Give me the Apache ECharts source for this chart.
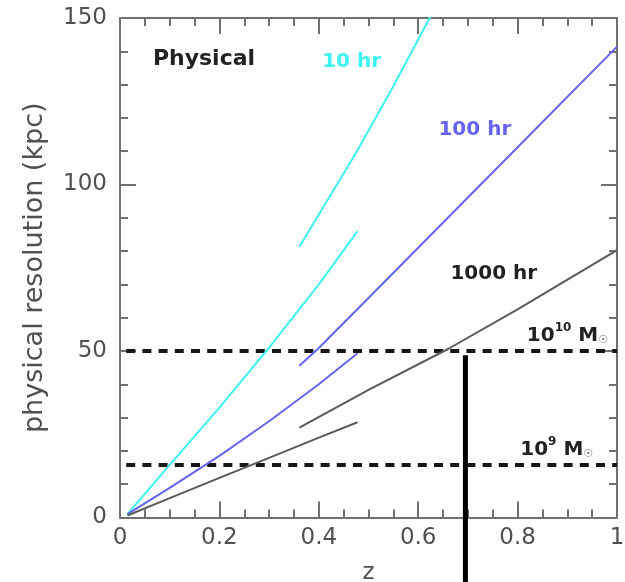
<!DOCTYPE html>
<html><head><meta charset="utf-8">
<script src="https://cdn.jsdelivr.net/npm/echarts@6/dist/echarts.min.js"></script>
<style>html,body{margin:0;padding:0;background:#fff}#chart{width:625px;height:582px}</style>
</head><body><div id="chart"></div>
<script>
// Axis ranges
const xRange = [0, 1];
const yRange = [0, 150];

// Physical resolution (kpc) versus redshift z: low-z and high-z branches per exposure time
const tenHrLow = [[0.015, 1], [0.1, 15.8], [0.2, 33.0], [0.3, 51.0], [0.4, 70.0], [0.478, 86.0]];
const tenHrHigh = [[0.361, 81.3], [0.478, 110.3], [0.55, 129.5], [0.623, 150], [0.66, 160]];
const hundredHrLow = [[0.015, 1], [0.1, 8.9], [0.2, 18.5], [0.3, 28.9], [0.4, 40.0], [0.478, 49.3]];
const hundredHrHigh = [[0.361, 45.6], [0.4, 50.9], [0.5, 65.9], [0.6, 81.0], [0.8, 111.2], [1.0, 141.4]];
const thousandHrLow = [[0.015, 0.6], [0.1, 5.8], [0.2, 11.9], [0.3, 17.9], [0.4, 24.0], [0.478, 28.6]];
const thousandHrHigh = [[0.361, 27], [0.5, 38.3], [0.66, 50.6], [0.8, 62.5], [1.0, 80.3]];

// Halo-mass thresholds (kpc) and their exponents
const massLevels = [50, 15.8];
const massExponents = ['10', '9'];

// Vertical marker at a chosen redshift, spanning these resolution values
const markerZ = 0.695;
const markerSpan = [48.7, -22];

const COLORS = { ten: '#3ff2f2', hundred: '#6464ee', thousand: '#5a5a5a' };
const FONT = 'DejaVu Sans';

function curve(data, color) {
  return {
    type: 'line', data: data, showSymbol: false, symbol: 'none', smooth: false,
    lineStyle: { color: color, width: 2, join: 'round' }, animation: false, z: 3
  };
}
function dashed(level) {
  return {
    type: 'line', data: [[xRange[0], level], [xRange[1], level]], symbol: 'none',
    lineStyle: { color: '#161616', width: 4, type: [9, 7.2], dashOffset: 10, cap: 'butt' },
    animation: false, z: 2
  };
}

// Text annotations anchored in data coordinates
const notes = [
  { value: [0.169, 137.6], text: 'Physical', color: '#222', size: 22 },
  { value: [0.466, 136.7], text: '10 hr', color: COLORS.ten, size: 20 },
  { value: [0.714, 116.3], text: '100 hr', color: COLORS.hundred, size: 20 },
  { value: [0.752, 73.1], text: '1000 hr', color: '#222', size: 20 }
];

const noteSeries = notes.map(n => ({
  type: 'scatter', symbolSize: 0, animation: false, silent: true, z: 5,
  itemStyle: { opacity: 1 },
  data: [{ value: n.value }],
  label: {
    show: true, position: 'inside', formatter: n.text, align: 'center',
    color: n.color, fontFamily: FONT, fontWeight: 'bold', fontSize: n.size
  }
}));

const massNoteAnchors = [[0.982, 55.2], [0.952, 21.0]];
const massSeries = massLevels.map((lv, i) => ({
  type: 'scatter', symbolSize: 0, animation: false, silent: true, z: 5,
  itemStyle: { opacity: 1 },
  data: [{ value: massNoteAnchors[i] }],
  label: {
    show: true, position: 'inside', align: 'right', verticalAlign: 'middle',
    formatter: '{n|10}{s|' + massExponents[i] + '}{n| M}{o|\u2609}',
    rich: {
      n: { fontFamily: FONT, fontWeight: 'bold', fontSize: 20, color: '#222', verticalAlign: 'bottom', lineHeight: 24 },
      s: { fontFamily: FONT, fontWeight: 'bold', fontSize: 12, color: '#222', verticalAlign: 'top', lineHeight: 24 },
      o: { fontFamily: FONT, fontSize: 11, color: '#666', verticalAlign: 'bottom', lineHeight: 22 }
    }
  }
}));

const axisLineStyle = { color: '#707070', width: 2 };
function xAxisDef(pos, labels) {
  return {
    type: 'value', position: pos, min: xRange[0], max: xRange[1], interval: 0.2,
    axisLine: { show: true, onZero: false, lineStyle: axisLineStyle },
    axisTick: { show: true, inside: true, length: 16, lineStyle: axisLineStyle },
    minorTick: { show: true, splitNumber: 4, length: 8, lineStyle: axisLineStyle },
    splitLine: { show: false },
    axisLabel: { show: labels, margin: 9, color: '#505050', fontFamily: FONT, fontSize: 23 },
    name: labels ? 'z' : '', nameLocation: 'middle', nameGap: 44,
    nameTextStyle: { color: '#505050', fontFamily: FONT, fontSize: 23 }
  };
}
function yAxisDef(pos, labels) {
  return {
    type: 'value', position: pos, min: yRange[0], max: yRange[1], interval: 50,
    axisLine: { show: true, onZero: false, lineStyle: axisLineStyle },
    axisTick: { show: true, inside: true, length: 16, lineStyle: axisLineStyle },
    minorTick: { show: true, splitNumber: 5, length: 8, lineStyle: axisLineStyle },
    splitLine: { show: false },
    axisLabel: { show: labels, margin: 13, color: '#505050', fontFamily: FONT, fontSize: 23 },
    name: labels ? 'physical resolution (kpc)' : '', nameLocation: 'middle', nameGap: 72, nameRotate: 90,
    nameTextStyle: { color: '#505050', fontFamily: FONT, fontSize: 27 }
  };
}

const chart = echarts.init(document.getElementById('chart'), null, { renderer: 'canvas' });
chart.setOption({
  animation: false,
  backgroundColor: '#fff',
  grid: { left: 120, right: 8, top: 18, bottom: 64.5, containLabel: false, outerBoundsMode: 'none' },
  xAxis: [xAxisDef('bottom', true), xAxisDef('top', false)],
  yAxis: [yAxisDef('left', true), yAxisDef('right', false)],
  series: [
    curve(tenHrLow, COLORS.ten),
    curve(tenHrHigh, COLORS.ten),
    curve(hundredHrLow, COLORS.hundred),
    curve(hundredHrHigh, COLORS.hundred),
    curve(thousandHrLow, COLORS.thousand),
    curve(thousandHrHigh, COLORS.thousand),
    dashed(massLevels[0]),
    dashed(massLevels[1]),
    {
      type: 'line', data: [[markerZ, markerSpan[0]], [markerZ, markerSpan[1]]], symbol: 'none',
      clip: false, lineStyle: { color: '#000', width: 5, cap: 'butt' }, animation: false, z: 4
    },
    ...noteSeries,
    ...massSeries
  ]
});
</script>
</body></html>
